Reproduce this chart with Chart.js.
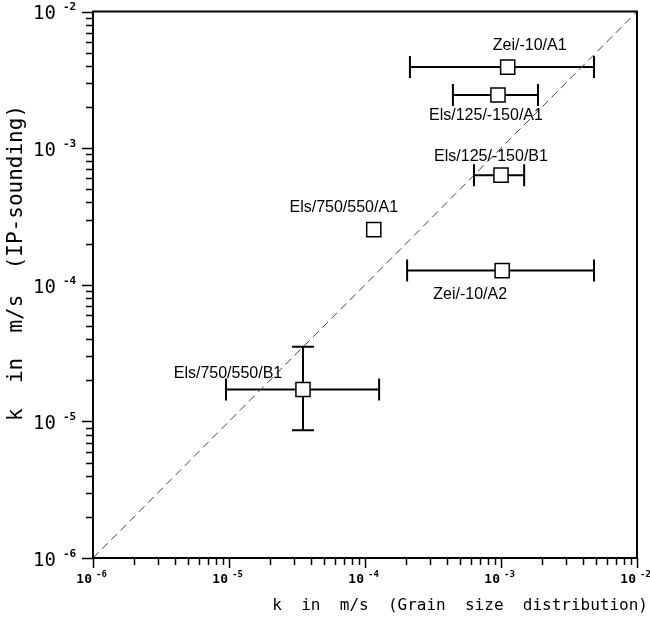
<!DOCTYPE html>
<html><head><meta charset="utf-8">
<script src="https://cdn.jsdelivr.net/npm/chart.js@4/dist/chart.umd.min.js"></script>
<style>html,body{margin:0;padding:0;background:#fff}#wrap{width:650px;height:631px}</style>
</head><body><div id="wrap"><canvas id="c" width="650" height="631"></canvas></div>
<script>
// ---- data ----
const sampleNames = ['Zei/-10/A1','Els/125/-150/A1','Els/125/-150/B1','Els/750/550/A1','Zei/-10/A2','Els/750/550/B1'];
const kGrain     = [1.12e-3, 9.5e-4, 1.0e-3, 1.16e-4, 1.02e-3, 3.5e-5];
const kIP        = [3.92e-3, 2.45e-3, 6.34e-4, 2.53e-4, 1.27e-4, 1.71e-5];
const kGrainLow  = [2.14e-4, 4.43e-4, 6.33e-4, null, 2.04e-4, 9.5e-6];
const kGrainHigh = [4.83e-3, 1.87e-3, 1.48e-3, null, 4.83e-3, 1.27e-4];
const kIPLow     = [null, null, null, null, null, 8.6e-6];
const kIPHigh    = [null, null, null, null, null, 3.52e-5];
const lineOfEquality = [1e-6, 1e-2];
const decadeExponents = [-6, -5, -4, -3, -2];
const minorMultipliers = [2, 3, 4, 5, 6, 7, 8, 9];
const xTitle = 'k  in  m/s  (Grain  size  distribution)';
const yTitle = 'k  in  m/s  (IP-sounding)';

// ---- label placement (style, pixels relative to marker) ----
const labelOffsets = [[22,-21],[-12,21],[-10,-19],[-30,-22],[-32,24],[-75,-16]];

function tickValues(){
  const v = [];
  decadeExponents.forEach((e,i)=>{
    v.push(Math.pow(10,e));
    if (i < decadeExponents.length-1) minorMultipliers.forEach(m=>v.push(m*Math.pow(10,e)));
  });
  return v;
}
const isDecade = v => decadeExponents.some(e => Math.abs(v/Math.pow(10,e)-1) < 1e-9);

const MONO = '"DejaVu Sans Mono", monospace';

const decor = {
  id: 'decor',
  beforeDatasetsDraw(chart){
    const {ctx, scales:{x, y}} = chart;
    ctx.save();
    ctx.strokeStyle = '#000'; ctx.lineWidth = 2;
    const cap = 11;
    kGrain.forEach((g,i)=>{
      const px = x.getPixelForValue(g), py = y.getPixelForValue(kIP[i]);
      if (kGrainLow[i] != null){
        const a = x.getPixelForValue(kGrainLow[i]), b = x.getPixelForValue(kGrainHigh[i]);
        ctx.beginPath();
        ctx.moveTo(a,py); ctx.lineTo(b,py);
        ctx.moveTo(a,py-cap); ctx.lineTo(a,py+cap);
        ctx.moveTo(b,py-cap); ctx.lineTo(b,py+cap);
        ctx.stroke();
      }
      if (kIPLow[i] != null){
        const a = y.getPixelForValue(kIPLow[i]), b = y.getPixelForValue(kIPHigh[i]);
        ctx.beginPath();
        ctx.moveTo(px,a); ctx.lineTo(px,b);
        ctx.moveTo(px-cap,a); ctx.lineTo(px+cap,a);
        ctx.moveTo(px-cap,b); ctx.lineTo(px+cap,b);
        ctx.stroke();
      }
    });
    ctx.restore();
  },
  afterDraw(chart){
    const {ctx, chartArea:ca, scales:{x, y}} = chart;
    ctx.save();
    // frame
    ctx.strokeStyle = '#000'; ctx.lineWidth = 2;
    ctx.strokeRect(ca.left, ca.top, ca.right-ca.left, ca.bottom-ca.top);
    // tick marks
    ctx.lineWidth = 1.5;
    ctx.beginPath();
    x.ticks.forEach(t=>{
      const px = Math.round(x.getPixelForValue(t.value)) + 0.5;
      const len = isDecade(t.value) ? 10 : 7;
      ctx.moveTo(px, ca.bottom); ctx.lineTo(px, ca.bottom+len);
    });
    y.ticks.forEach(t=>{
      const py = Math.round(y.getPixelForValue(t.value)) + 0.5;
      const len = isDecade(t.value) ? 11 : 7;
      ctx.moveTo(ca.left, py); ctx.lineTo(ca.left-len, py);
    });
    ctx.stroke();
    // tick labels
    ctx.fillStyle = '#000';
    decadeExponents.forEach(e=>{
      const v = Math.pow(10,e);
      const px = x.getPixelForValue(v);
      ctx.font = 'bold 13px ' + MONO;
      ctx.textAlign = 'right'; ctx.textBaseline = 'middle';
      ctx.fillText('10', px-1, ca.bottom+22);
      ctx.font = 'bold 9px ' + MONO;
      ctx.textAlign = 'left';
      ctx.fillText(String(e), px+3, ca.bottom+17);

      const py = y.getPixelForValue(v);
      ctx.font = '19px ' + MONO;
      ctx.textAlign = 'right';
      ctx.fillText('10', 56, py+3);
      ctx.font = 'bold 11px ' + MONO;
      ctx.textAlign = 'left';
      ctx.fillText(String(e), 63, py-4);
    });
    // axis titles
    ctx.font = '16px ' + MONO;
    ctx.textAlign = 'right'; ctx.textBaseline = 'middle';
    ctx.fillText(xTitle, 648, 606);
    ctx.save();
    ctx.translate(17, 263);
    ctx.rotate(-Math.PI/2);
    ctx.font = '21px ' + MONO;
    ctx.textAlign = 'center';
    ctx.fillText(yTitle, 0, 0);
    ctx.restore();
    // point labels
    ctx.font = '16px "Liberation Sans", Arial, sans-serif';
    ctx.textAlign = 'center'; ctx.textBaseline = 'middle';
    sampleNames.forEach((n,i)=>{
      const px = x.getPixelForValue(kGrain[i]), py = y.getPixelForValue(kIP[i]);
      ctx.fillText(n, px + labelOffsets[i][0], py + labelOffsets[i][1]);
    });
    ctx.restore();
  }
};

const logAxis = (fitFn) => ({
  type: 'logarithmic', min: 1e-6, max: 1e-2,
  ticks: { display: false },
  grid: { display: false },
  border: { display: false },
  afterBuildTicks: s => { s.ticks = tickValues().map(v => ({ value: v, major: isDecade(v) })); },
  afterFit: fitFn
});

new Chart(document.getElementById('c'), {
  type: 'scatter',
  data: {
    datasets: [
      {
        type: 'line',
        data: lineOfEquality.map(v => ({x: v, y: v})),
        borderColor: '#444', borderWidth: 1, borderDash: [8, 5],
        pointRadius: 0, fill: false, order: 2
      },
      {
        data: kGrain.map((g,i) => ({x: g, y: kIP[i]})),
        pointStyle: 'rect', pointRadius: 10, pointHoverRadius: 10,
        backgroundColor: '#fff', borderColor: '#000', borderWidth: 1.5,
        showLine: false, order: 1
      }
    ]
  },
  options: {
    responsive: false, animation: false, devicePixelRatio: 1,
    layout: { padding: { top: 7, right: 13, left: 0, bottom: 0 } },
    plugins: { legend: { display: false }, tooltip: { enabled: false } },
    scales: {
      x: logAxis(s => { s.height = 73; }),
      y: logAxis(s => { s.width = 93; })
    }
  },
  plugins: [decor]
});
</script>
</body></html>
